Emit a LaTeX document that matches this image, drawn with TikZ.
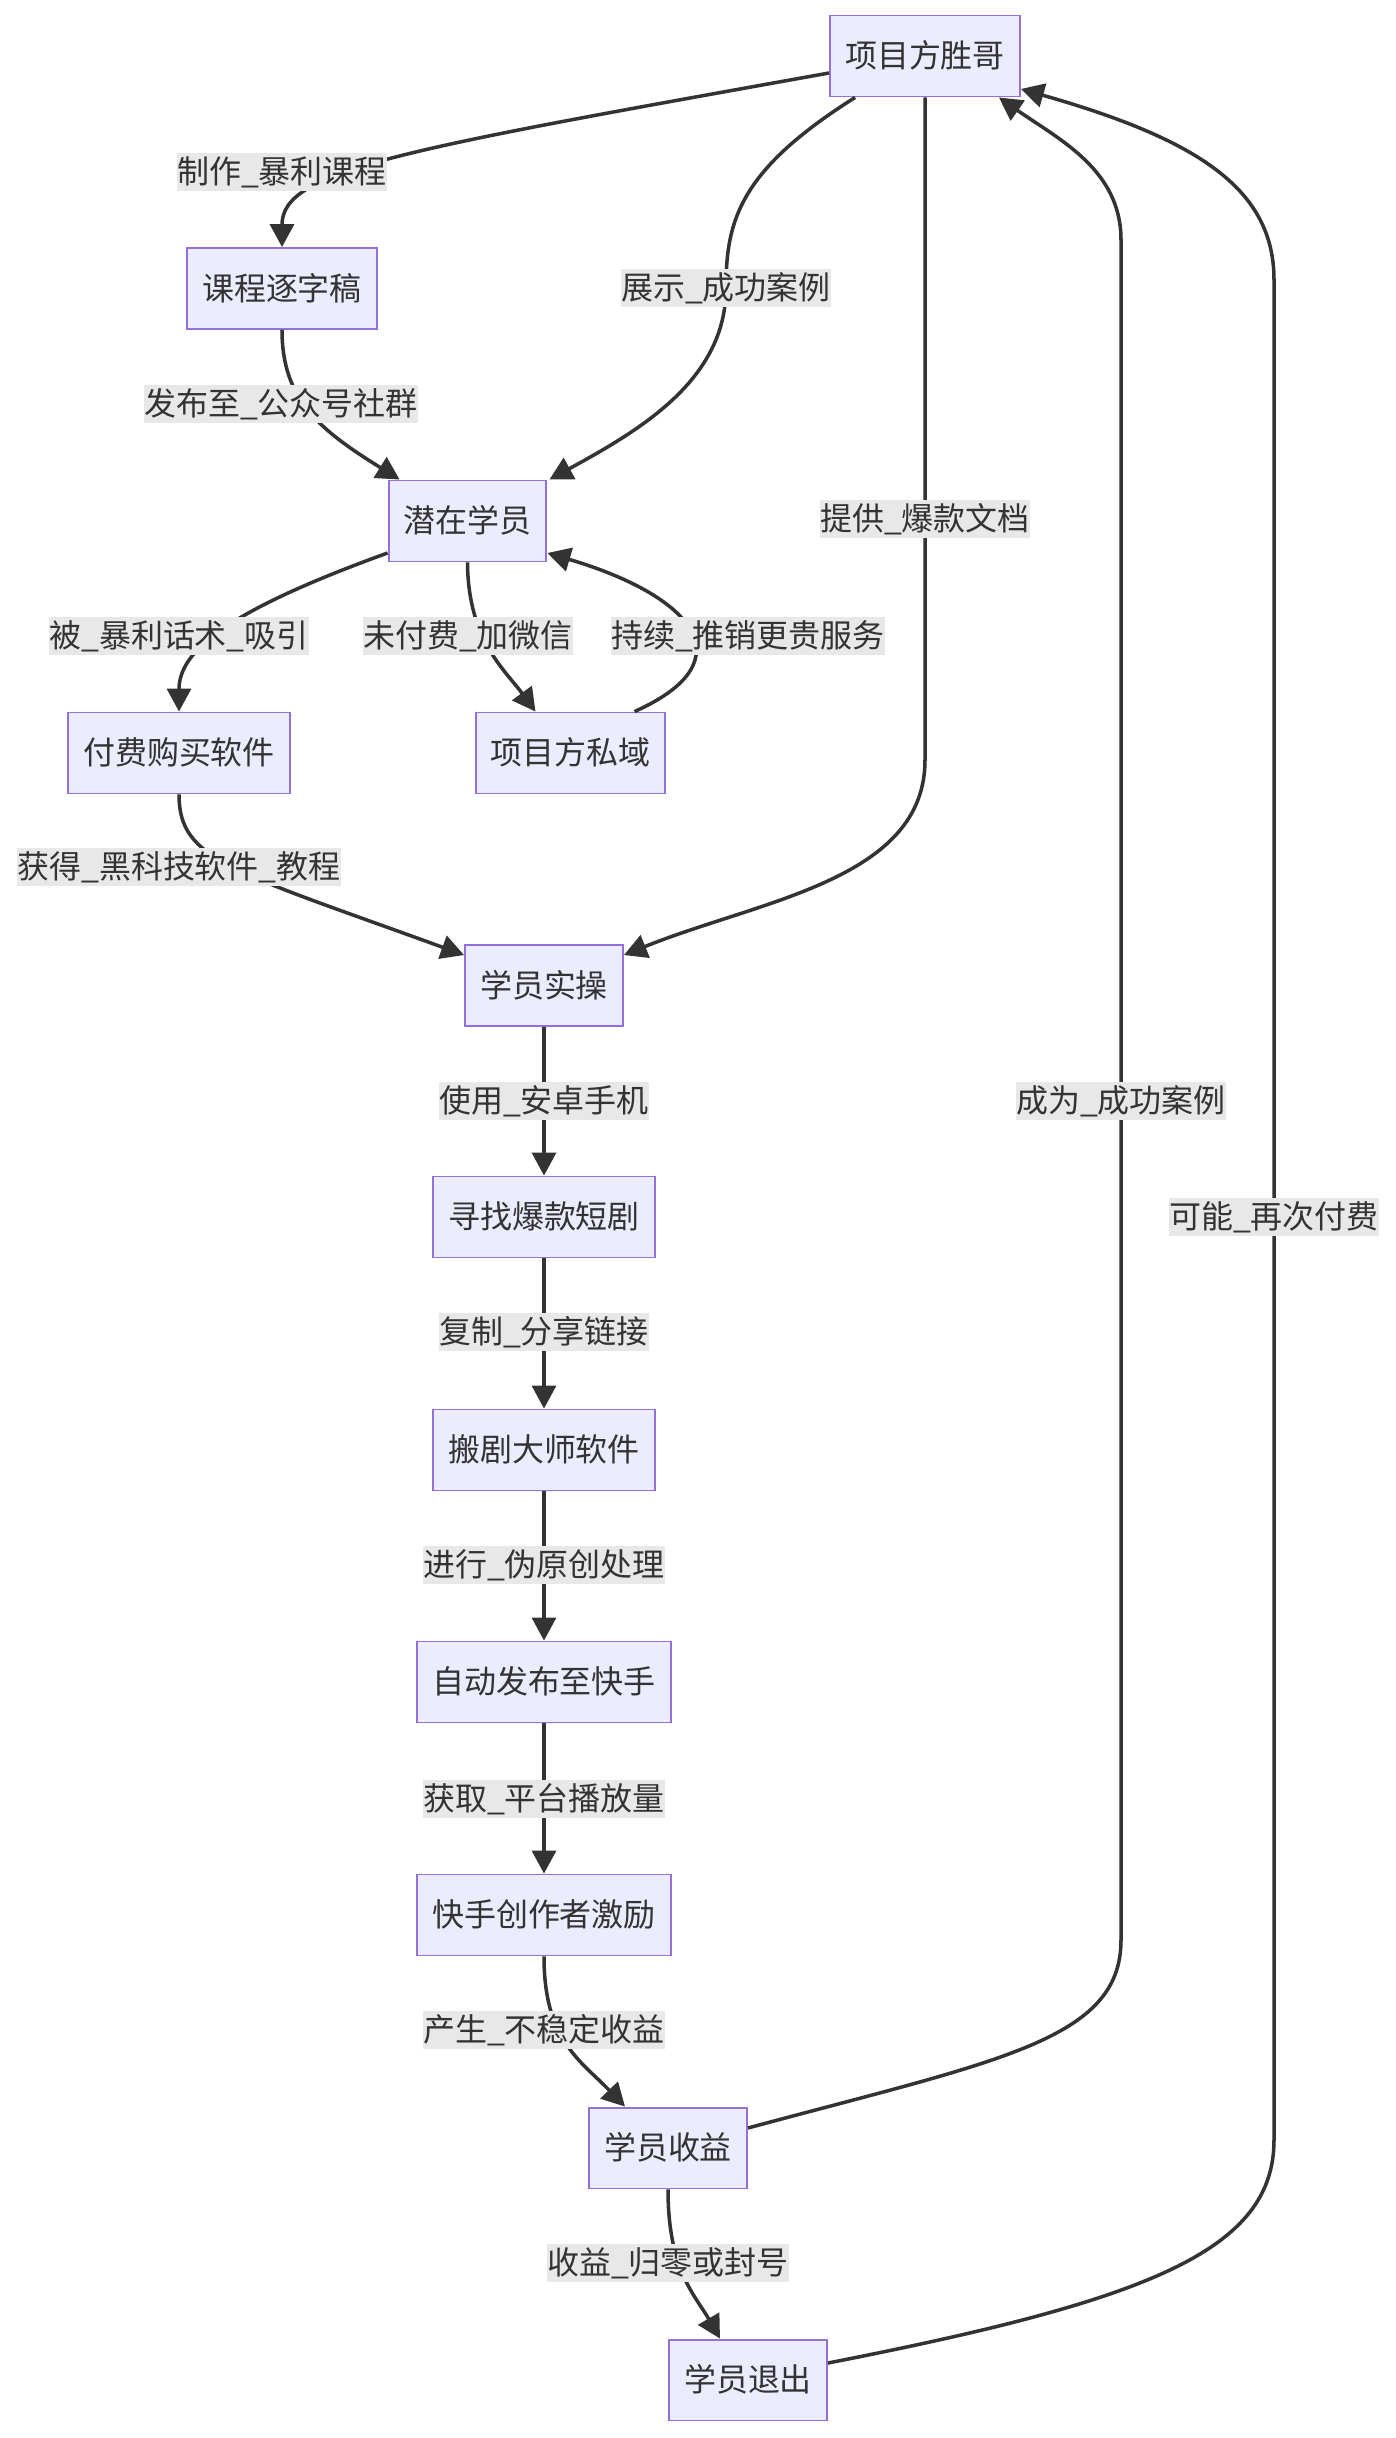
\documentclass[tikz,border=0pt]{standalone}
\usepackage{fontspec}
\setmainfont{Noto Sans CJK SC}
\usepackage{tikz}
\usetikzlibrary{arrows.meta,calc}
\definecolor{boxfill}{HTML}{ECECFF}
\definecolor{boxline}{HTML}{9370DB}
\definecolor{linkgray}{HTML}{333333}
\definecolor{labelbg}{HTML}{E8E8E8}

\begin{document}
\begin{tikzpicture}[x=0.02cm, y=-0.02cm,
    every node/.style={font=\fontsize{18.2}{22}\selectfont, text=linkgray},
    box/.style={draw=boxline, fill=boxfill, line width=1.1pt, minimum height=1.62cm, inner xsep=0.3cm, inner ysep=0pt, text height=0.55cm, text depth=0.09cm},
    lbl/.style={fill=labelbg, inner xsep=0pt, inner ysep=0.06cm, text height=0.55cm, text depth=0.09cm},
    link/.style={draw=linkgray, line width=2pt, -{Triangle[length=0.46cm, width=0.48cm]}}]
    \useasboundingbox (0,0) rectangle (1396,2438);

    % boxes
    \node[box] (boss) at (925,56) {项目方胜哥};
    \node[box] (script) at (282,288.5) {课程逐字稿};
    \node[box] (lead) at (467.5,521) {潜在学员};
    \node[box] (buy) at (179,753) {付费购买软件};
    \node[box] (priv) at (570.5,753) {项目方私域};
    \node[box] (op) at (544,985.5) {学员实操};
    \node[box] (find) at (544,1217) {寻找爆款短剧};
    \node[box] (tool) at (544,1450) {搬剧大师软件};
    \node[box] (post) at (544,1682) {自动发布至快手};
    \node[box] (bonus) at (544,1915) {快手创作者激励};
    \node[box] (income) at (668,2148) {学员收益};
    \node[box] (quit) at (748,2380) {学员退出};

    % links
    \draw[link] ($(boss.west)+(0,17)$) .. controls (400,150) and (282,170) .. (script.north);
    \draw[link] ($(boss.south west)+(26,0)$) .. controls (740,170) and (726,220) .. (726,288) .. controls (726,380) and (640,430) .. ($(lead.north east)+(2,0)$);
    \draw[link] (boss.south) -- (925,760) .. controls (925,880) and (760,900) .. ($(op.north east)+(0,11)$);
    \draw[link] (script.south) .. controls (282,400) and (320,430) .. ($(lead.north west)+(12,0)$);
    \draw[link] ($(lead.west)+(0,32)$) .. controls (230,610) and (179,650) .. (buy.north);
    \draw[link] (lead.south) .. controls (468,640) and (505,670) .. ($(priv.north)+(-35,0)$);
    \draw[link] ($(priv.north)+(64,0)$) .. controls (750,660) and (690,595) .. ($(lead.east)+(0,32)$);
    \draw[link] (buy.south) .. controls (179,860) and (230,870) .. ($(op.north west)+(0,11)$);
    \draw[link] (op) -- (find);
    \draw[link] (find) -- (tool);
    \draw[link] (tool) -- (post);
    \draw[link] (post) -- (bonus);
    \draw[link] (bonus.south) .. controls (544,2040) and (580,2060) .. ($(income.north)+(-43,0)$);
    \draw[link] (income.south) .. controls (668,2270) and (695,2295) .. ($(quit.north)+(-28,0)$);
    \draw[link] ($(income.east)+(0,-20)$) .. controls (1000,2060) and (1121,2040) .. (1121,1940) -- (1121,240) .. controls (1121,170) and (1060,140) .. ($(boss.south east)+(-22,0)$);
    \draw[link] ($(quit.east)+(0,-17)$) .. controls (1150,2300) and (1274,2250) .. (1274,2140) -- (1274,280) .. controls (1274,190) and (1200,140) .. ($(boss.east)+(0,33)$);

    % labels
    \node[lbl] (makeLbl) at (282,172) {制作\_暴利课程};
    \node[lbl] (showLbl) at (726,288) {展示\_成功案例};
    \node[lbl] (docLbl) at (925,519) {提供\_爆款文档};
    \node[lbl] (pubLbl) at (281,404) {发布至\_公众号社群};
    \node[lbl] (lureLbl) at (179,636) {被\_暴利话术\_吸引};
    \node[lbl] (wxLbl) at (468,636) {未付费\_加微信};
    \node[lbl] (upsellLbl) at (748,636) {持续\_推销更贵服务};
    \node[lbl] (getLbl) at (179,867) {获得\_黑科技软件\_教程};
    \node[lbl] (phoneLbl) at (544,1101) {使用\_安卓手机};
    \node[lbl] (copyLbl) at (544,1332) {复制\_分享链接};
    \node[lbl] (fakeLbl) at (544,1565) {进行\_伪原创处理};
    \node[lbl] (playLbl) at (544,1799) {获取\_平台播放量};
    \node[lbl] (earnLbl) at (544,2030) {产生\_不稳定收益};
    \node[lbl] (zeroLbl) at (668,2263) {收益\_归零或封号};
    \node[lbl] (caseLbl) at (1121,1101) {成为\_成功案例};
    \node[lbl] (againLbl) at (1274,1217) {可能\_再次付费};
\end{tikzpicture}
\end{document}
